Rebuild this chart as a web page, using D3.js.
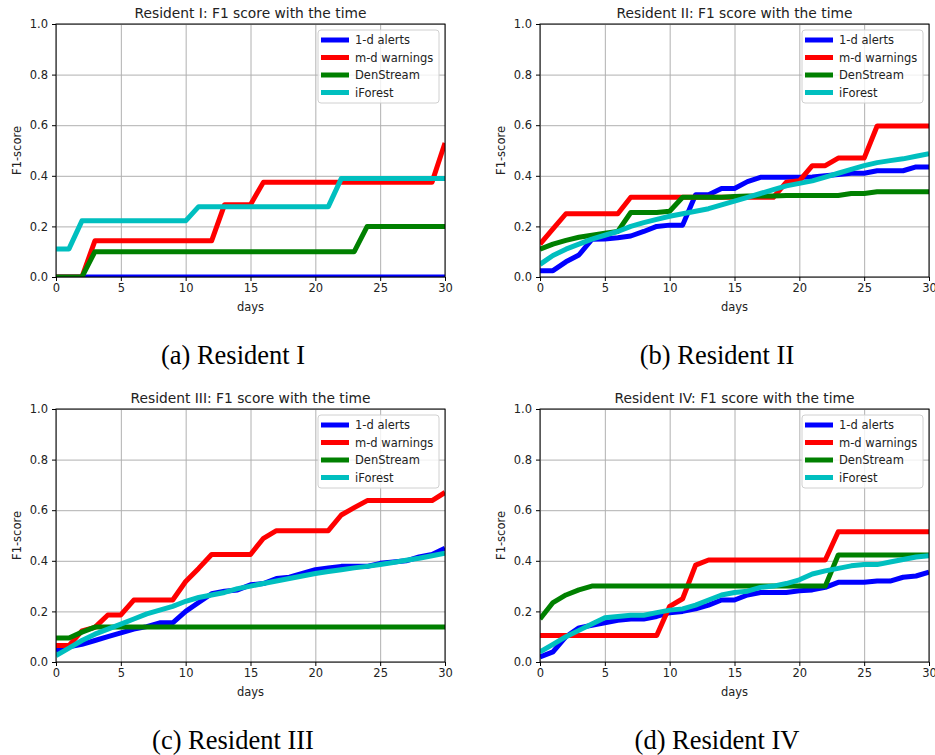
<!DOCTYPE html>
<html>
<head>
<meta charset="utf-8">
<script src="https://cdn.jsdelivr.net/npm/d3@7"></script>
<style>
  body { margin: 0; background: #fff; }
  svg text { font-family: "DejaVu Sans", sans-serif; fill: #222; }
  .caption { font-family: "Liberation Serif", "Times New Roman", serif; fill: #000; }
</style>
</head>
<body>
<div id="chart"></div>
<script>
// data
var days = [0,1,2,3,4,5,6,7,8,9,10,11,12,13,14,15,16,17,18,19,20,21,22,23,24,25,26,27,28,29,30];
var series_names = ['1-d alerts', 'm-d warnings', 'DenStream', 'iForest'];
var series_colors = ['#0000ff', '#ff0000', '#008000', '#00bfbf'];
var x_ticks = [0, 5, 10, 15, 20, 25, 30];
var y_ticks = [0.0, 0.2, 0.4, 0.6, 0.8, 1.0];

var r1_alerts = [0,0,0,0,0,0,0,0,0,0,0,0,0,0,0,0,0,0,0,0,0,0,0,0,0,0,0,0,0,0,0];
var r1_warnings = [0,0,0,0.143,0.143,0.143,0.143,0.143,0.143,0.143,0.143,0.143,0.143,0.286,0.286,0.286,0.375,0.375,0.375,0.375,0.375,0.375,0.375,0.375,0.375,0.375,0.375,0.375,0.375,0.375,0.53];
var r1_denstream = [0,0,0,0.1,0.1,0.1,0.1,0.1,0.1,0.1,0.1,0.1,0.1,0.1,0.1,0.1,0.1,0.1,0.1,0.1,0.1,0.1,0.1,0.1,0.2,0.2,0.2,0.2,0.2,0.2,0.2];
var r1_iforest = [0.111,0.111,0.222,0.222,0.222,0.222,0.222,0.222,0.222,0.222,0.222,0.278,0.278,0.278,0.278,0.278,0.278,0.278,0.278,0.278,0.278,0.278,0.389,0.389,0.389,0.389,0.389,0.389,0.389,0.389,0.389];

var r2_alerts = [0.025,0.025,0.06,0.087,0.149,0.15,0.155,0.162,0.18,0.2,0.205,0.205,0.325,0.325,0.35,0.35,0.377,0.394,0.394,0.394,0.394,0.395,0.4,0.405,0.41,0.41,0.42,0.42,0.42,0.435,0.435];
var r2_warnings = [0.13,0.19,0.25,0.25,0.25,0.25,0.25,0.315,0.315,0.315,0.315,0.315,0.315,0.315,0.315,0.315,0.315,0.315,0.315,0.375,0.38,0.44,0.44,0.47,0.47,0.47,0.597,0.597,0.597,0.597,0.597];
var r2_denstream = [0.11,0.13,0.145,0.157,0.165,0.173,0.18,0.255,0.255,0.255,0.26,0.315,0.315,0.315,0.315,0.318,0.32,0.32,0.32,0.322,0.322,0.322,0.322,0.322,0.33,0.33,0.337,0.337,0.337,0.337,0.337];
var r2_iforest = [0.05,0.085,0.11,0.13,0.15,0.165,0.18,0.2,0.215,0.228,0.24,0.25,0.26,0.27,0.285,0.3,0.315,0.33,0.345,0.36,0.37,0.38,0.395,0.41,0.425,0.44,0.452,0.46,0.467,0.477,0.487];

var r3_alerts = [0.045,0.06,0.07,0.085,0.1,0.115,0.13,0.14,0.155,0.155,0.2,0.235,0.27,0.28,0.285,0.305,0.31,0.33,0.335,0.35,0.365,0.372,0.378,0.378,0.378,0.39,0.395,0.4,0.415,0.425,0.45];
var r3_warnings = [0.065,0.065,0.123,0.137,0.186,0.186,0.245,0.245,0.245,0.245,0.318,0.37,0.425,0.425,0.425,0.425,0.489,0.519,0.519,0.519,0.519,0.519,0.581,0.61,0.638,0.638,0.638,0.638,0.638,0.638,0.67];
var r3_denstream = [0.095,0.095,0.118,0.138,0.138,0.138,0.138,0.138,0.138,0.138,0.138,0.138,0.138,0.138,0.138,0.138,0.138,0.138,0.138,0.138,0.138,0.138,0.138,0.138,0.138,0.138,0.138,0.138,0.138,0.138,0.138];
var r3_iforest = [0.025,0.055,0.085,0.11,0.13,0.15,0.17,0.19,0.205,0.22,0.24,0.255,0.265,0.275,0.29,0.3,0.31,0.32,0.33,0.34,0.35,0.358,0.365,0.372,0.378,0.385,0.393,0.402,0.41,0.42,0.43];

var r4_alerts = [0.02,0.04,0.1,0.135,0.145,0.155,0.165,0.17,0.17,0.18,0.195,0.2,0.21,0.225,0.245,0.245,0.265,0.275,0.275,0.275,0.282,0.285,0.295,0.315,0.315,0.315,0.32,0.32,0.335,0.34,0.355];
var r4_warnings = [0.105,0.105,0.105,0.105,0.105,0.105,0.105,0.105,0.105,0.105,0.22,0.25,0.383,0.403,0.403,0.403,0.403,0.403,0.403,0.403,0.403,0.403,0.403,0.515,0.515,0.515,0.515,0.515,0.515,0.515,0.515];
var r4_denstream = [0.17,0.235,0.265,0.285,0.3,0.3,0.3,0.3,0.3,0.3,0.3,0.3,0.3,0.3,0.3,0.3,0.3,0.3,0.3,0.3,0.3,0.3,0.3,0.423,0.423,0.423,0.423,0.423,0.423,0.423,0.423];
var r4_iforest = [0.04,0.07,0.1,0.125,0.15,0.175,0.18,0.185,0.185,0.195,0.205,0.21,0.225,0.245,0.265,0.275,0.28,0.295,0.3,0.31,0.325,0.348,0.36,0.37,0.38,0.385,0.385,0.395,0.405,0.415,0.42];

var titles = ['Resident I: F1 score with the time', 'Resident II: F1 score with the time',
              'Resident III: F1 score with the time', 'Resident IV: F1 score with the time'];
var captions = ['(a) Resident I', '(b) Resident II', '(c) Resident III', '(d) Resident IV'];
var residents = [
    [r1_alerts, r1_warnings, r1_denstream, r1_iforest],
    [r2_alerts, r2_warnings, r2_denstream, r2_iforest],
    [r3_alerts, r3_warnings, r3_denstream, r3_iforest],
    [r4_alerts, r4_warnings, r4_denstream, r4_iforest]
];

//layout
var width = 935;
var height = 755;
var plot_w = 389;
var plot_h = 253;
var origins = [{x: 56, y: 24}, {x: 540, y: 24}, {x: 56, y: 409}, {x: 540, y: 409}];

var svg = d3.select('#chart')
    .append('svg')
    .attr('width', width)
    .attr('height', height);

function panel(i){
    var o = origins[i];
    var g = svg.append('g')
        .attr('transform', 'translate(' + o.x + ',' + o.y + ')');

    var x = d3.scaleLinear().domain([0, 30]).range([0, plot_w]);
    var y = d3.scaleLinear().domain([0, 1]).range([plot_h, 0]);

    //grid
    g.append('g')
        .attr('class', 'grid')
        .attr('transform', 'translate(0,' + plot_h + ')')
        .call(d3.axisBottom(x).tickValues(x_ticks).tickSize(-plot_h).tickFormat(''))
        .call(function(s){ s.select('.domain').remove(); });
    g.append('g')
        .attr('class', 'grid')
        .call(d3.axisLeft(y).tickValues(y_ticks).tickSize(-plot_w).tickFormat(''))
        .call(function(s){ s.select('.domain').remove(); });
    g.selectAll('.grid line')
        .attr('stroke', '#b0b0b0')
        .attr('stroke-width', 1);

    //lines
    var clip_id = 'clip' + i;
    g.append('clipPath')
        .attr('id', clip_id)
        .append('rect')
        .attr('width', plot_w)
        .attr('height', plot_h);

    var line = d3.line()
        .x(function(d, j){ return x(days[j]); })
        .y(function(d){ return y(d); });

    residents[i].forEach(function(values, k){
        g.append('path')
            .datum(values)
            .attr('clip-path', 'url(#' + clip_id + ')')
            .attr('fill', 'none')
            .attr('stroke', series_colors[k])
            .attr('stroke-width', 5)
            .attr('stroke-linejoin', 'round')
            .attr('d', line);
    });

    //axes
    var xa = g.append('g')
        .attr('transform', 'translate(0,' + plot_h + ')')
        .call(d3.axisBottom(x).tickValues(x_ticks).tickSize(4).tickPadding(3).tickFormat(d3.format('d')));
    var ya = g.append('g')
        .call(d3.axisLeft(y).tickValues(y_ticks).tickSize(4).tickPadding(4).tickFormat(d3.format('.1f')));
    [xa, ya].forEach(function(a){
        a.select('.domain').remove();
        a.selectAll('line').attr('stroke', '#000');
        a.selectAll('text')
            .style('font-family', '"DejaVu Sans", sans-serif')
            .style('font-size', '11.5px')
            .attr('fill', '#222');
    });

    g.append('rect')
        .attr('width', plot_w)
        .attr('height', plot_h)
        .attr('fill', 'none')
        .attr('stroke', '#000')
        .attr('stroke-width', 1);

    //labels
    g.append('text')
        .attr('x', plot_w / 2)
        .attr('y', -6)
        .attr('text-anchor', 'middle')
        .style('font-size', '13.8px')
        .text(titles[i]);

    g.append('text')
        .attr('x', plot_w / 2)
        .attr('y', plot_h + 34)
        .attr('text-anchor', 'middle')
        .style('font-size', '11.5px')
        .text('days');

    g.append('text')
        .attr('transform', 'translate(-35,' + (plot_h / 2) + ') rotate(-90)')
        .attr('text-anchor', 'middle')
        .style('font-size', '11.5px')
        .text('F1-score');

    //legend
    var lg = g.append('g')
        .attr('transform', 'translate(' + (plot_w - 127) + ',6)');
    lg.append('rect')
        .attr('width', 121)
        .attr('height', 73)
        .attr('rx', 3)
        .attr('fill', '#fff')
        .attr('fill-opacity', 0.8)
        .attr('stroke', '#d0d0d0');
    series_names.forEach(function(name, k){
        var ly = 10 + k * 17.5;
        lg.append('line')
            .attr('x1', 3).attr('x2', 31)
            .attr('y1', ly).attr('y2', ly)
            .attr('stroke', series_colors[k])
            .attr('stroke-width', 5);
        lg.append('text')
            .attr('x', 37)
            .attr('y', ly + 4)
            .style('font-size', '11.5px')
            .text(name);
    });

    //caption
    svg.append('text')
        .attr('class', 'caption')
        .attr('x', o.x + 177)
        .attr('y', o.y + 340)
        .attr('text-anchor', 'middle')
        .style('font-size', '26.5px')
        .text(captions[i]);
}

[0, 1, 2, 3].forEach(panel);
</script>
</body>
</html>
